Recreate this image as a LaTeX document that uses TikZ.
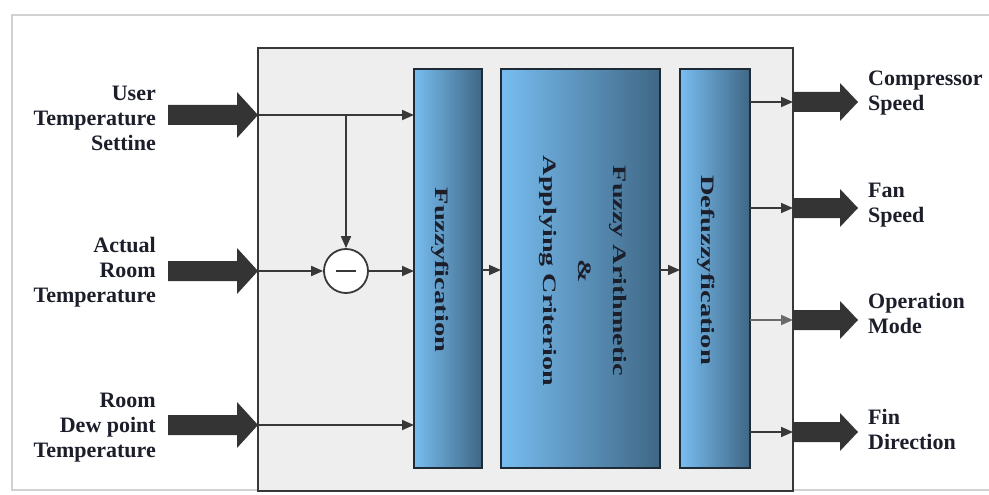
\documentclass[tikz,border=0pt]{standalone}
\usepackage{fontspec}
\setmainfont{Liberation Serif}
\usepackage{graphicx}
\usetikzlibrary{arrows.meta}
\definecolor{lncol}{HTML}{383838}
\definecolor{bigcol}{HTML}{343434}
\definecolor{txtcol}{HTML}{1C1E2A}
\definecolor{blklight}{HTML}{78BDF0}
\definecolor{blkdark}{HTML}{3F6785}
\definecolor{blkedge}{HTML}{1E2A36}
\definecolor{boxfill}{HTML}{EEEEEE}
\begin{document}
\begin{tikzpicture}[x=1pt,y=-1pt,
  lbl/.style={font=\fontsize{22}{25}\selectfont\bfseries, text=txtcol, inner sep=0pt},
  blk/.style={draw=blkedge, line width=1.6pt, left color=blklight, right color=blkdark, inner sep=0pt, outer sep=0pt},
  blktxt/.style={font=\fontsize{19}{35}\selectfont\bfseries, text=txtcol, rotate=-90, inner sep=0pt},
  arr/.style={draw=lncol, line width=1.8pt, -{Triangle[length=12pt,width=10pt]}},
  bigL/.pic={\fill[bigcol] (-90,-10) -- (-21,-10) -- (-21,-23) -- (0,0) -- (-21,23) -- (-21,10) -- (-90,10) -- cycle;},
  bigR/.pic={\fill[bigcol] (0,-10) -- (47,-10) -- (47,-19) -- (65,0) -- (47,19) -- (47,10) -- (0,10) -- cycle;}
]
\useasboundingbox (0,0) rectangle (989,495);
\fill[white] (0,0) rectangle (989,495);
\draw[black!18, line width=1.2pt] (989,15) -- (12,15) -- (12,490) -- (989,490);

% outer box
\node[draw=lncol, fill=boxfill, line width=1.8pt, minimum width=535pt, minimum height=443pt, inner sep=0pt, outer sep=0pt] (outer) at (525.5,269.5) {};

% blocks
\node[blk, minimum width=68pt, minimum height=399pt] (fuzz) at (448,268.5) {};
\node[blk, minimum width=159pt, minimum height=399pt] (mid) at (580.5,268.5) {};
\node[blk, minimum width=70pt, minimum height=399pt] (defuzz) at (715,268.5) {};

\node[blktxt] (fuzzt) at (440,270) {\scalebox{1.5}[1]{Fuzzyfication}};
\node[blktxt] (midt) at (585,271) {\scalebox{1.48}[1]{\begin{tabular}{@{}c@{}}Fuzzy Arithmetic\\ \&\\ Applying Criterion\end{tabular}}};
\node[blktxt] (defuzzt) at (706,270) {\scalebox{1.5}[1]{Defuzzyfication}};

% circle
\node[circle, draw=lncol, fill=white, line width=1.8pt, minimum size=44pt, inner sep=0pt] (sub) at (346,271) {};
\draw[lncol, line width=2.6pt] ([xshift=-10pt]sub.center) -- ([xshift=10pt]sub.center);

% input coordinates
\coordinate (in1) at (258,115);
\coordinate (in2) at (258,271);
\coordinate (in3) at (258,425);
\coordinate (junc) at (346,115);

\draw[arr] (in1) -- (fuzz.west |- in1);
\draw[arr] (junc) -- (sub.north);
\draw[arr] (in2) -- (sub.west);
\draw[arr] (sub.east) -- (fuzz.west |- sub.east);
\draw[arr] (in3) -- (fuzz.west |- in3);

\draw[arr] (fuzz.east |- 0,270) -- (mid.west |- 0,270);
\draw[arr] (mid.east |- 0,270) -- (defuzz.west |- 0,270);

% outputs
\coordinate (out1) at (793,102);
\coordinate (out2) at (793,208);
\coordinate (out3) at (793,320);
\coordinate (out4) at (793,432);
\draw[arr] (defuzz.east |- out1) -- (out1);
\draw[arr] (defuzz.east |- out2) -- (out2);
\draw[arr, draw=lncol!75] (defuzz.east |- out3) -- (out3);
\draw[arr] (defuzz.east |- out4) -- (out4);

% big arrows
\pic at (in1) {bigL};
\pic at (in2) {bigL};
\pic at (in3) {bigL};
\pic at (out1) {bigR};
\pic at (out2) {bigR};
\pic at (out3) {bigR};
\pic at (out4) {bigR};

% labels
\node[lbl, align=right, anchor=east] (l1) at (156,118) {User\\Temperature\\Settine};
\node[lbl, align=right, anchor=east] (l2) at (156,272) {Actual\\Room\\Temperature};
\node[lbl, align=right, anchor=east] (l3) at (156,428) {Room\\Dew point\\Temperature};

\node[lbl, align=left, anchor=west] (r1) at (868,93) {Compressor\\Speed};
\node[lbl, align=left, anchor=west] (r2) at (868,205) {Fan\\Speed};
\node[lbl, align=left, anchor=west] (r3) at (868,313) {Operation\\Mode};
\node[lbl, align=left, anchor=west] (r4) at (868,429) {Fin\\Direction};
\end{tikzpicture}
\end{document}
